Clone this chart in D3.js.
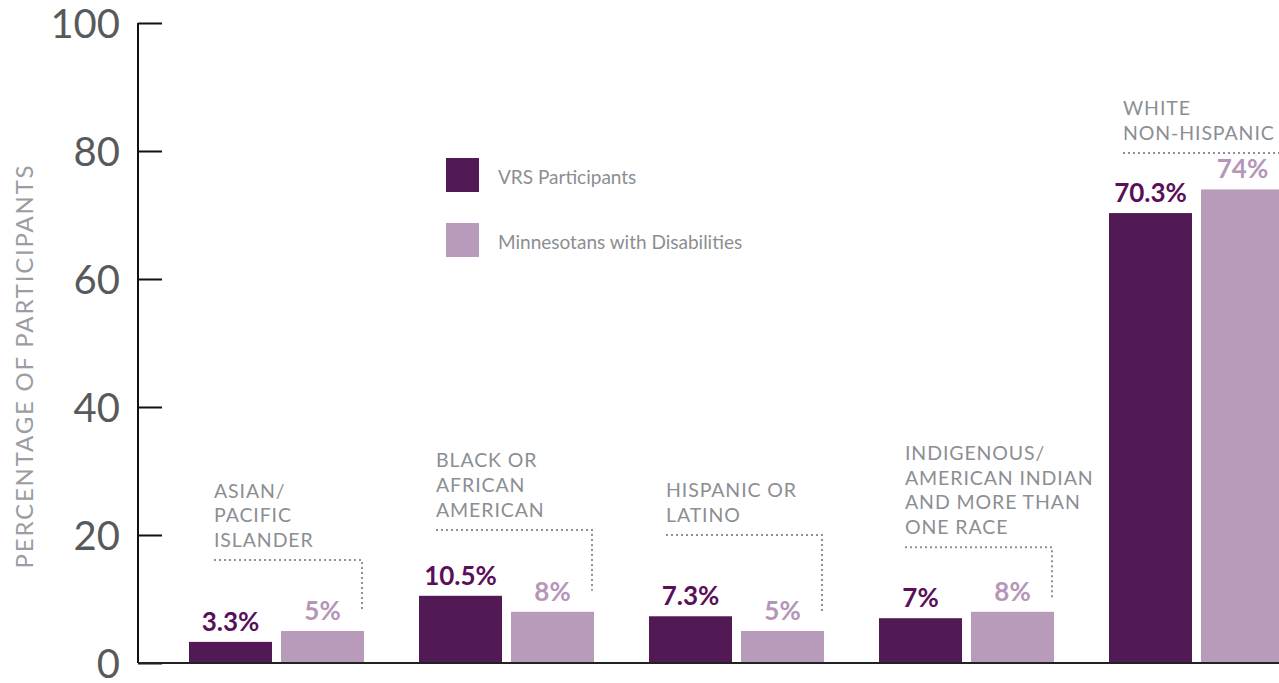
<!DOCTYPE html>
<html>
<head>
<meta charset="utf-8">
<script src="https://cdn.jsdelivr.net/npm/d3@7"></script>
<style>
  html, body { margin: 0; padding: 0; background: #fff; }
  svg { display: block; }
</style>
</head>
<body>
<svg id="chart" width="1279" height="683"></svg>
<script>
// Race / ethnicity groups
const categories = [
  ["ASIAN/", "PACIFIC", "ISLANDER"],
  ["BLACK OR", "AFRICAN", "AMERICAN"],
  ["HISPANIC OR", "LATINO"],
  ["INDIGENOUS/", "AMERICAN INDIAN", "AND MORE THAN", "ONE RACE"],
  ["WHITE", "NON-HISPANIC"]
];
const seriesNames = ["VRS Participants", "Minnesotans with Disabilities"];
const vrsValues = [3.3, 10.5, 7.3, 7, 70.3];
const mnValues = [5, 8, 5, 8, 74];
const vrsLabels = ["3.3%", "10.5%", "7.3%", "7%", "70.3%"];
const mnLabels = ["5%", "8%", "5%", "8%", "74%"];
const yTicks = [0, 20, 40, 60, 80, 100];
const yTitle = "PERCENTAGE OF PARTICIPANTS";

// Callout layout per group: x offset of the text from the group start,
// level of the dotted rule and end of its drop (in axis units).
const callouts = [
  { dx: 25, rule: 16.1, drop: 8.0 },
  { dx: 17, rule: 20.8, drop: 11.3 },
  { dx: 17, rule: 20.0, drop: 7.7 },
  { dx: 26, rule: 18.1, drop: 10.2 },
  { dx: 14, rule: 79.7, drop: null }
];

const colors = { vrs: "#521a54", mn: "#b89bba", vrsText: "#5a0f5b", mnText: "#b596b8" };
const grey = "#8b8e93";

const svg = d3.select("#chart");
const ids = d3.range(categories.length);

const y = d3.scaleLinear().domain([0, 100]).range([663, 23]);
const x0 = d3.scaleBand().domain(ids).range([189, 1284]).paddingInner(55 / 230).paddingOuter(0);
const x1 = d3.scaleBand().domain([0, 1]).range([0, x0.bandwidth()]).paddingInner(9 / 92).paddingOuter(0);

// Y axis with inward ticks
const yAxis = d3.axisLeft(y).tickValues(yTicks).tickSize(-24).tickPadding(0).tickFormat(d3.format("d"));
const gy = svg.append("g").attr("transform", "translate(138,0)").call(yAxis);
gy.select(".domain").attr("stroke", "#111").attr("stroke-width", 2).attr("d", `M0,${y(100)}V${y(0)}`);
gy.selectAll(".tick line").attr("stroke", "#111").attr("stroke-width", 2);
gy.selectAll(".tick text")
  .attr("x", -18)
  .attr("dy", "0.35em")
  .attr("fill", "#58595b")
  .attr("font-family", "Lato, sans-serif")
  .attr("font-size", 40)
  .attr("font-weight", 400);

// Axis title
svg.append("text")
  .attr("transform", `translate(33,366) rotate(-90)`)
  .attr("text-anchor", "middle")
  .attr("fill", "#9a9da1")
  .attr("font-family", "Lato, sans-serif")
  .attr("font-size", 24)
  .attr("letter-spacing", 1.8)
  .text(yTitle);

// Bars
const groups = svg.append("g").selectAll("g").data(ids).join("g")
  .attr("transform", i => `translate(${x0(i)},0)`);

const rows = ids.map(i => [
  { s: 0, v: vrsValues[i], label: vrsLabels[i] },
  { s: 1, v: mnValues[i], label: mnLabels[i] }
]);

groups.selectAll("rect").data(i => rows[i]).join("rect")
  .attr("x", d => x1(d.s))
  .attr("width", x1.bandwidth())
  .attr("y", d => y(d.v))
  .attr("height", d => y(0) - y(d.v))
  .attr("fill", d => d.s === 0 ? colors.vrs : colors.mn);

groups.selectAll("text.value").data(i => rows[i]).join("text")
  .attr("class", "value")
  .attr("x", d => x1(d.s) + x1.bandwidth() / 2)
  .attr("y", d => y(d.v) - 11)
  .attr("text-anchor", "middle")
  .attr("font-family", "Lato, sans-serif")
  .attr("font-weight", 700)
  .attr("font-size", 26)
  .attr("fill", d => d.s === 0 ? colors.vrsText : colors.mnText)
  .text(d => d.label);

// Baseline
svg.append("line")
  .attr("x1", 138).attr("x2", 1279)
  .attr("y1", y(0)).attr("y2", y(0))
  .attr("stroke", "#222").attr("stroke-width", 2);

// Group callouts: label text plus dotted bracket
groups.each(function (i) {
  const g = d3.select(this);
  const c = callouts[i];
  const lines = categories[i];
  const ruleY = y(c.rule);
  const lineH = 24.7;
  const firstBase = ruleY - 13 - (lines.length - 1) * lineH;
  g.append("text")
    .attr("fill", grey)
    .attr("font-family", "Lato, sans-serif")
    .attr("font-size", 19.5)
    .attr("letter-spacing", 0.9)
    .selectAll("tspan").data(lines).join("tspan")
    .attr("x", c.dx)
    .attr("y", (d, k) => firstBase + k * lineH)
    .text(d => d);
  const xEnd = c.drop === null ? 1279 - x0(i) : x0.bandwidth() - 2;
  let path = `M${c.dx},${ruleY}H${xEnd}`;
  if (c.drop !== null) path += `V${y(c.drop)}`;
  g.append("path")
    .attr("d", path)
    .attr("fill", "none")
    .attr("stroke", "#8f9196")
    .attr("stroke-width", 2)
    .attr("stroke-dasharray", "2,3");
});

// Legend
const legend = svg.append("g").attr("transform", "translate(446,158)");
const li = legend.selectAll("g").data(seriesNames).join("g")
  .attr("transform", (d, k) => `translate(0,${k * 65})`);
li.append("rect")
  .attr("width", 33).attr("height", 34)
  .attr("fill", (d, k) => k === 0 ? colors.vrs : colors.mn);
li.append("text")
  .attr("x", 52).attr("y", 26)
  .attr("fill", grey)
  .attr("font-family", "Lato, sans-serif")
  .attr("font-size", 19)
  .text(d => d);
</script>
</body>
</html>
